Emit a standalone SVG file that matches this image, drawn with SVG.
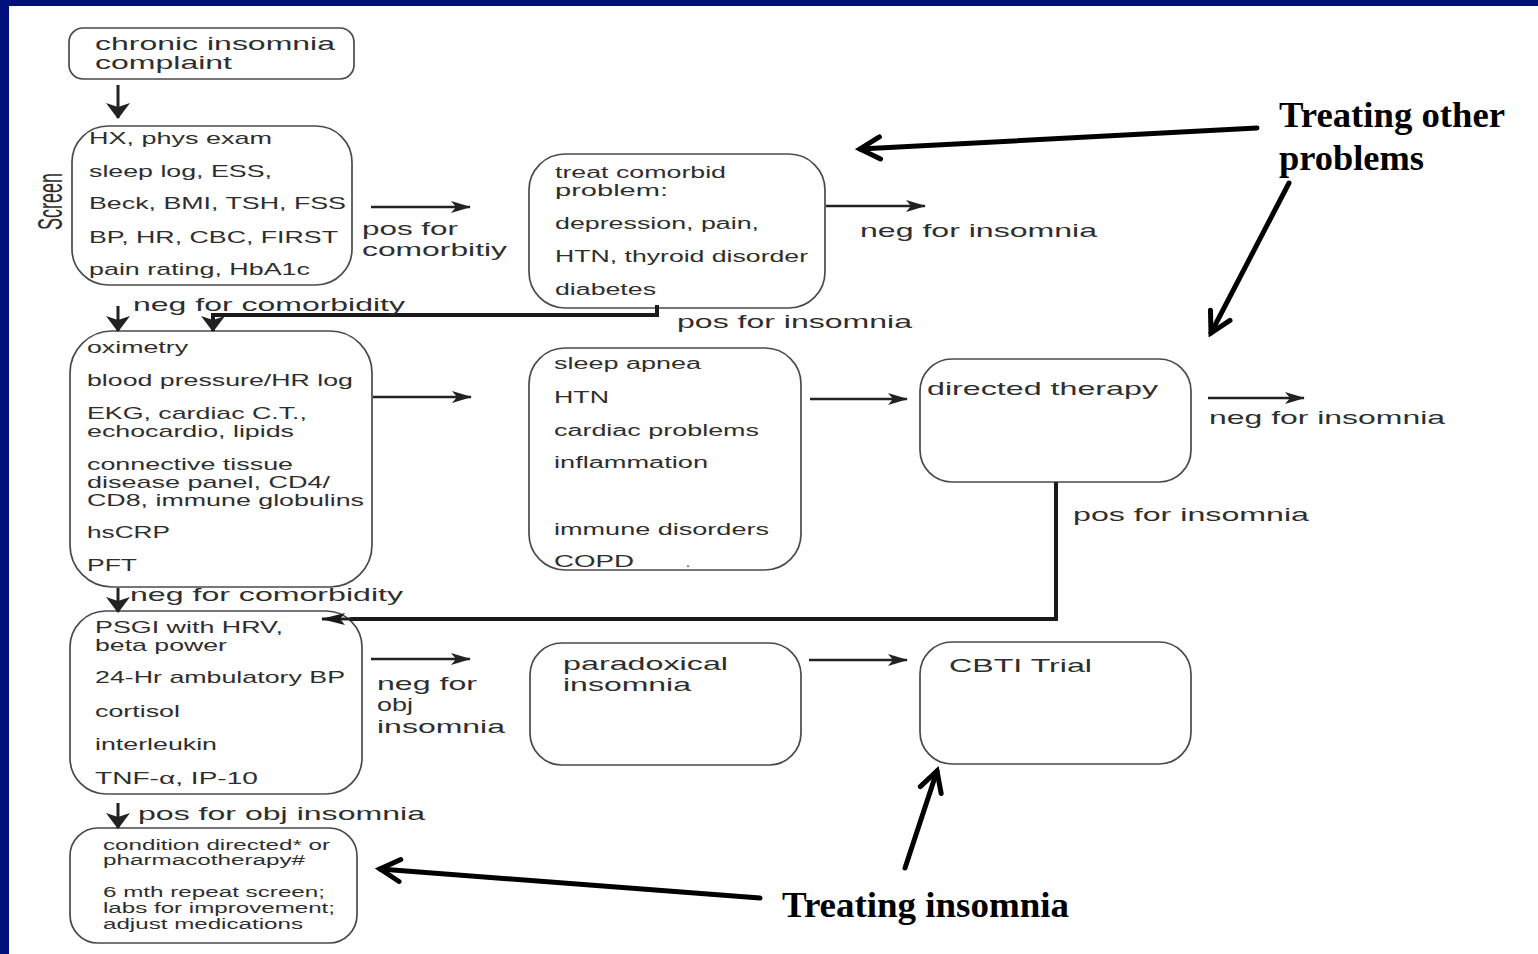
<svg xmlns="http://www.w3.org/2000/svg" width="1538" height="954" viewBox="0 0 1538 954">
<style>
.box{fill:#fff;stroke:#4a4a4a;stroke-width:1.7}
.t{font-family:"Liberation Sans",Arial,sans-serif;fill:#2e2e2e}
.s17{font-size:17px}
.s16{font-size:16px}
.s19{font-size:19px}
.s14{font-size:14px}
.ann{font-family:"Liberation Serif","Times New Roman",serif;font-weight:bold;font-size:36px;fill:#000}
.thin{stroke:#222;stroke-width:2.4;fill:none}
.dn{stroke:#222;stroke-width:3;fill:none}
.bold{stroke:#1a1a1a;stroke-width:4;fill:none}
.call{stroke:#000;stroke-width:5;fill:none;stroke-linecap:round}
</style>
<defs>
<marker id="ah" viewBox="0 0 20 12" refX="19" refY="6" markerWidth="20" markerHeight="12" orient="auto" markerUnits="userSpaceOnUse"><path d="M0,0 L20,6 L0,12 L5,6 Z" fill="#222"/></marker>
<marker id="ahd" viewBox="0 0 16 24" refX="15" refY="12" markerWidth="16" markerHeight="24" orient="auto" markerUnits="userSpaceOnUse"><path d="M0,0 L16,12 L0,24 L4,12 Z" fill="#222"/></marker>
<marker id="ahb" viewBox="0 0 24 12" refX="23" refY="6" markerWidth="24" markerHeight="12" orient="auto" markerUnits="userSpaceOnUse"><path d="M0,0 L24,6 L0,12 L5,6 Z" fill="#1a1a1a"/></marker>
<marker id="chev" viewBox="0 0 28 28" refX="23" refY="14" markerWidth="28" markerHeight="28" orient="auto" markerUnits="userSpaceOnUse"><path d="M3,3 L23,14 L3,25" fill="none" stroke="#000" stroke-width="5" stroke-linecap="round"/></marker>
</defs>
<rect x="0" y="0" width="1538" height="954" fill="#00107a"/>
<rect x="9" y="6" width="1529" height="948" fill="#fff"/>

<g id="n1">
<rect class="box" x="69" y="28" width="285" height="51" rx="14"/>
<text class="t s19" x="95" y="50" textLength="240" lengthAdjust="spacingAndGlyphs">chronic insomnia</text>
<text class="t s19" x="95" y="69" textLength="137" lengthAdjust="spacingAndGlyphs">complaint</text>
</g>

<g id="n2">
<rect class="box" x="72" y="126" width="280" height="159" rx="36"/>
<text class="t s17" x="89" y="144" textLength="183" lengthAdjust="spacingAndGlyphs">HX, phys exam</text>
<text class="t s17" x="89" y="177" textLength="183" lengthAdjust="spacingAndGlyphs">sleep log, ESS,</text>
<text class="t s17" x="89" y="209" textLength="257" lengthAdjust="spacingAndGlyphs">Beck, BMI, TSH, FSS</text>
<text class="t s17" x="89" y="243" textLength="249" lengthAdjust="spacingAndGlyphs">BP, HR, CBC, FIRST</text>
<text class="t s17" x="89" y="275" textLength="221" lengthAdjust="spacingAndGlyphs">pain rating, HbA1c</text>
</g>

<g id="n3">
<rect class="box" x="529" y="154" width="296" height="154" rx="36"/>
<text class="t s16" x="555" y="178" textLength="171" lengthAdjust="spacingAndGlyphs">treat comorbid</text>
<text class="t s16" x="555" y="196" textLength="113" lengthAdjust="spacingAndGlyphs">problem:</text>
<text class="t s16" x="555" y="229" textLength="204" lengthAdjust="spacingAndGlyphs">depression, pain,</text>
<text class="t s16" x="555" y="262" textLength="253" lengthAdjust="spacingAndGlyphs">HTN, thyroid disorder</text>
<text class="t s16" x="555" y="295" textLength="101" lengthAdjust="spacingAndGlyphs">diabetes</text>
</g>

<g id="n4">
<rect class="box" x="70" y="331" width="302" height="256" rx="42"/>
<text class="t s17" x="87" y="353" textLength="101" lengthAdjust="spacingAndGlyphs">oximetry</text>
<text class="t s17" x="87" y="386" textLength="266" lengthAdjust="spacingAndGlyphs">blood pressure/HR log</text>
<text class="t s17" x="87" y="419" textLength="220" lengthAdjust="spacingAndGlyphs">EKG, cardiac C.T.,</text>
<text class="t s17" x="87" y="437" textLength="207" lengthAdjust="spacingAndGlyphs">echocardio, lipids</text>
<text class="t s17" x="87" y="470" textLength="206" lengthAdjust="spacingAndGlyphs">connective tissue</text>
<text class="t s17" x="87" y="488" textLength="243" lengthAdjust="spacingAndGlyphs">disease panel, CD4/</text>
<text class="t s17" x="87" y="506" textLength="277" lengthAdjust="spacingAndGlyphs">CD8, immune globulins</text>
<text class="t s17" x="87" y="538" textLength="83" lengthAdjust="spacingAndGlyphs">hsCRP</text>
<text class="t s17" x="87" y="571" textLength="50" lengthAdjust="spacingAndGlyphs">PFT</text>
</g>

<g id="n5">
<rect class="box" x="529" y="348" width="272" height="222" rx="36"/>
<text class="t s16" x="554" y="369" textLength="147" lengthAdjust="spacingAndGlyphs">sleep apnea</text>
<text class="t s16" x="554" y="403" textLength="55" lengthAdjust="spacingAndGlyphs">HTN</text>
<text class="t s16" x="554" y="436" textLength="205" lengthAdjust="spacingAndGlyphs">cardiac problems</text>
<text class="t s16" x="554" y="468" textLength="154" lengthAdjust="spacingAndGlyphs">inflammation</text>
<text class="t s16" x="554" y="535" textLength="215" lengthAdjust="spacingAndGlyphs">immune disorders</text>
<text class="t s16" x="554" y="567" textLength="80" lengthAdjust="spacingAndGlyphs">COPD</text>
<text class="t s14" x="686" y="567">.</text>
</g>

<g id="n6">
<rect class="box" x="920" y="359" width="271" height="123" rx="32"/>
<text class="t s19" x="927" y="395" textLength="231" lengthAdjust="spacingAndGlyphs">directed therapy</text>
</g>

<g id="n7">
<rect class="box" x="70" y="611" width="292" height="183" rx="36"/>
<text class="t s17" x="95" y="633" textLength="188" lengthAdjust="spacingAndGlyphs">PSGI with HRV,</text>
<text class="t s17" x="95" y="651" textLength="132" lengthAdjust="spacingAndGlyphs">beta power</text>
<text class="t s17" x="95" y="683" textLength="250" lengthAdjust="spacingAndGlyphs">24-Hr ambulatory BP</text>
<text class="t s17" x="95" y="717" textLength="85" lengthAdjust="spacingAndGlyphs">cortisol</text>
<text class="t s17" x="95" y="750" textLength="122" lengthAdjust="spacingAndGlyphs">interleukin</text>
<text class="t s17" x="95" y="784" textLength="163" lengthAdjust="spacingAndGlyphs">TNF-α, IP-10</text>
</g>

<g id="n8">
<rect class="box" x="530" y="643" width="271" height="122" rx="32"/>
<text class="t s19" x="563" y="670" textLength="165" lengthAdjust="spacingAndGlyphs">paradoxical</text>
<text class="t s19" x="563" y="691" textLength="128" lengthAdjust="spacingAndGlyphs">insomnia</text>
</g>

<g id="n9">
<rect class="box" x="920" y="642" width="271" height="122" rx="32"/>
<text class="t s19" x="949" y="672" textLength="143" lengthAdjust="spacingAndGlyphs">CBTI Trial</text>
</g>

<g id="n10">
<rect class="box" x="70" y="828" width="287" height="115" rx="28"/>
<text class="t s14" x="103" y="850" textLength="227" lengthAdjust="spacingAndGlyphs">condition directed* or</text>
<text class="t s14" x="103" y="865" textLength="202" lengthAdjust="spacingAndGlyphs">pharmacotherapy#</text>
<text class="t s14" x="103" y="897" textLength="222" lengthAdjust="spacingAndGlyphs">6 mth repeat screen;</text>
<text class="t s14" x="103" y="913" textLength="232" lengthAdjust="spacingAndGlyphs">labs for improvement;</text>
<text class="t s14" x="103" y="929" textLength="200" lengthAdjust="spacingAndGlyphs">adjust medications</text>
</g>

<g id="connectors">
<line class="dn" x1="118" y1="85" x2="118" y2="118" marker-end="url(#ahd)"/>
<line class="thin" x1="371" y1="207" x2="470" y2="207" marker-end="url(#ah)"/>
<line class="thin" x1="826" y1="206" x2="925" y2="206" marker-end="url(#ah)"/>
<line class="dn" x1="118" y1="306" x2="118" y2="331" marker-end="url(#ahd)"/>
<path class="bold" d="M657,305 V315 H213 V331" marker-end="url(#ahd)"/>
<line class="thin" x1="373" y1="397" x2="471" y2="397" marker-end="url(#ah)"/>
<line class="thin" x1="810" y1="399" x2="907" y2="399" marker-end="url(#ah)"/>
<line class="thin" x1="1208" y1="398" x2="1304" y2="398" marker-end="url(#ah)"/>
<path class="bold" d="M1056,482 V619 H350" />
<line class="thin" x1="352" y1="619" x2="322" y2="619" style="stroke-width:3" marker-end="url(#ahb)"/>
<line class="dn" x1="118" y1="588" x2="118" y2="612" marker-end="url(#ahd)"/>
<line class="thin" x1="371" y1="659" x2="470" y2="659" marker-end="url(#ah)"/>
<line class="thin" x1="809" y1="660" x2="907" y2="660" marker-end="url(#ah)"/>
<line class="dn" x1="118" y1="803" x2="118" y2="828" marker-end="url(#ahd)"/>
<line class="call" x1="1257" y1="128" x2="860" y2="149" marker-end="url(#chev)"/>
<line class="call" x1="1289" y1="183" x2="1211" y2="333" marker-end="url(#chev)"/>
<line class="call" x1="760" y1="898" x2="380" y2="869" marker-end="url(#chev)"/>
<line class="call" x1="905" y1="868" x2="937" y2="771" marker-end="url(#chev)"/>
</g>

<g id="labels">
<text class="t s19" x="362" y="235" textLength="96" lengthAdjust="spacingAndGlyphs">pos for</text>
<text class="t s19" x="362" y="256" textLength="145" lengthAdjust="spacingAndGlyphs">comorbitiy</text>
<text class="t s19" x="860" y="237" textLength="237" lengthAdjust="spacingAndGlyphs">neg for insomnia</text>
<text class="t s19" x="133" y="311" textLength="272" lengthAdjust="spacingAndGlyphs">neg for comorbidity</text>
<text class="t s19" x="677" y="328" textLength="235" lengthAdjust="spacingAndGlyphs">pos for insomnia</text>
<text class="t s19" x="1209" y="424" textLength="236" lengthAdjust="spacingAndGlyphs">neg for insomnia</text>
<text class="t s19" x="1073" y="521" textLength="236" lengthAdjust="spacingAndGlyphs">pos for insomnia</text>
<text class="t s19" x="130" y="601" textLength="273" lengthAdjust="spacingAndGlyphs">neg for comorbidity</text>
<text class="t s19" x="377" y="690" textLength="100" lengthAdjust="spacingAndGlyphs">neg for</text>
<text class="t s19" x="377" y="711" textLength="36" lengthAdjust="spacingAndGlyphs">obj</text>
<text class="t s19" x="377" y="733" textLength="128" lengthAdjust="spacingAndGlyphs">insomnia</text>
<text class="t s19" x="138" y="820" textLength="287" lengthAdjust="spacingAndGlyphs">pos for obj insomnia</text>
<text class="t" font-size="35" transform="translate(62,230) rotate(-90)" textLength="57" lengthAdjust="spacingAndGlyphs">Screen</text>
</g>

<g id="annotations">
<text class="ann" x="1279" y="127" textLength="226" lengthAdjust="spacingAndGlyphs">Treating other</text>
<text class="ann" x="1279" y="170" textLength="145" lengthAdjust="spacingAndGlyphs">problems</text>
<text class="ann" x="782" y="917" textLength="287" lengthAdjust="spacingAndGlyphs">Treating insomnia</text>
</g>
</svg>
